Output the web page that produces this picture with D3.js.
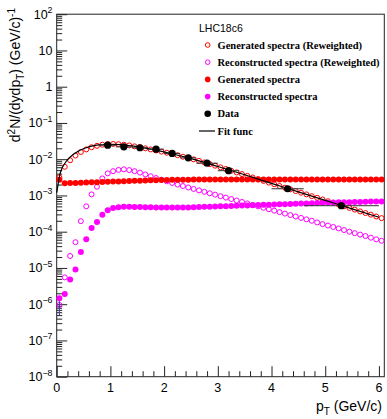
<!DOCTYPE html>
<html>
<head>
<meta charset="utf-8">
<script src="https://cdn.jsdelivr.net/npm/d3@7"></script>
<style>
  html, body { margin: 0; padding: 0; background: #fff; }
  svg { display: block; }
  text { font-family: "Liberation Sans", Arial, Helvetica, sans-serif; fill: #000; }
  .leg { font-family: "Liberation Serif", "Times New Roman", serif; font-weight: bold; }
</style>
</head>
<body>
<svg id="chart" width="387" height="419"></svg>
<script>
// ---- pT bins: 0.1 GeV/c wide, from 0 to 6.1 ----
const binCenters = d3.range(61).map(i => +(0.05 + 0.1 * i).toFixed(2));

// Generated spectra (Reweighted)
const genReweighted = [
  3.16e-3, 6.17e-3, 9.33e-3, 1.26e-2, 1.58e-2, 1.86e-2, 2.14e-2, 2.34e-2, 2.51e-2, 2.60e-2,
  2.63e-2, 2.60e-2, 2.51e-2, 2.40e-2, 2.26e-2, 2.14e-2, 2.00e-2, 1.86e-2, 1.74e-2, 1.62e-2,
  1.51e-2, 1.40e-2, 1.29e-2, 1.17e-2, 1.08e-2, 9.89e-3, 9.02e-3, 8.13e-3, 7.33e-3, 6.61e-3,
  5.96e-3, 5.37e-3, 4.79e-3, 4.32e-3, 3.89e-3, 3.47e-3, 3.13e-3, 2.82e-3, 2.51e-3, 2.26e-3,
  2.04e-3, 1.82e-3, 1.64e-3, 1.48e-3, 1.32e-3, 1.19e-3, 1.07e-3, 9.55e-4, 8.61e-4, 7.76e-4,
  6.92e-4, 6.24e-4, 5.62e-4, 5.01e-4, 4.52e-4, 4.07e-4, 3.63e-4, 3.27e-4, 2.95e-4, 2.63e-4,
  2.37e-4
];

// Reconstructed spectra (Reweighted)
const recoReweighted = [
  9.55e-7, 5.50e-6, 2.14e-5, 5.13e-5, 1.95e-4, 5.01e-4, 1.07e-3, 1.74e-3, 2.95e-3, 4.07e-3,
  4.68e-3, 5.07e-3, 5.25e-3, 5.01e-3, 4.68e-3, 4.27e-3, 3.80e-3, 3.39e-3, 3.02e-3, 2.72e-3,
  2.45e-3, 2.21e-3, 2.00e-3, 1.82e-3, 1.66e-3, 1.51e-3, 1.38e-3, 1.26e-3, 1.15e-3, 1.05e-3,
  9.55e-4, 8.71e-4, 7.94e-4, 7.24e-4, 6.61e-4, 6.03e-4, 5.50e-4, 5.01e-4, 4.57e-4, 4.17e-4,
  3.80e-4, 3.47e-4, 3.16e-4, 2.88e-4, 2.63e-4, 2.40e-4, 2.19e-4, 2.00e-4, 1.80e-4, 1.62e-4,
  1.48e-4, 1.35e-4, 1.23e-4, 1.11e-4, 1.00e-4, 9.12e-5, 8.32e-5, 7.59e-5, 6.84e-5, 6.17e-5,
  5.62e-5
];

// Generated spectra
const generated = [
  2.69e-3, 2.18e-3, 2.20e-3, 2.22e-3, 2.25e-3, 2.27e-3, 2.30e-3, 2.33e-3, 2.36e-3, 2.38e-3,
  2.41e-3, 2.44e-3, 2.47e-3, 2.50e-3, 2.53e-3, 2.56e-3, 2.59e-3, 2.62e-3, 2.64e-3, 2.66e-3,
  2.68e-3, 2.70e-3, 2.71e-3, 2.72e-3, 2.73e-3, 2.75e-3, 2.74e-3, 2.76e-3, 2.75e-3, 2.74e-3,
  2.75e-3, 2.76e-3, 2.75e-3, 2.74e-3, 2.76e-3, 2.75e-3, 2.75e-3, 2.74e-3, 2.76e-3, 2.75e-3,
  2.74e-3, 2.75e-3, 2.76e-3, 2.75e-3, 2.74e-3, 2.75e-3, 2.76e-3, 2.75e-3, 2.75e-3, 2.74e-3,
  2.76e-3, 2.75e-3, 2.74e-3, 2.75e-3, 2.76e-3, 2.75e-3, 2.74e-3, 2.75e-3, 2.76e-3, 2.75e-3,
  2.75e-3
];

// Reconstructed spectra
const reconstructed = [
  1.45e-6, 1.91e-6, 4.79e-6, 9.12e-6, 2.75e-5, 6.17e-5, 1.26e-4, 1.86e-4, 2.95e-4, 3.89e-4,
  4.52e-4, 4.73e-4, 4.84e-4, 4.84e-4, 4.79e-4, 4.79e-4, 4.73e-4, 4.73e-4, 4.68e-4, 4.68e-4,
  4.68e-4, 4.68e-4, 4.68e-4, 4.68e-4, 4.68e-4, 4.73e-4, 4.79e-4, 4.84e-4, 4.90e-4, 4.95e-4,
  5.01e-4, 5.07e-4, 5.13e-4, 5.19e-4, 5.25e-4, 5.31e-4, 5.37e-4, 5.43e-4, 5.50e-4, 5.56e-4,
  5.62e-4, 5.69e-4, 5.75e-4, 5.82e-4, 5.89e-4, 5.96e-4, 6.03e-4, 6.10e-4, 6.17e-4, 6.24e-4,
  6.31e-4, 6.38e-4, 6.46e-4, 6.46e-4, 6.53e-4, 6.61e-4, 6.61e-4, 6.68e-4, 6.76e-4, 6.76e-4,
  6.84e-4
];

// Measured data points with bin half-widths
const dataPt   = [0.95, 1.25, 1.55, 1.85, 2.15, 2.45, 2.8, 3.2, 4.3, 5.3];
const dataVal  = [2.43e-2, 2.19e-2, 2.07e-2, 1.89e-2, 1.44e-2, 1.09e-2, 7.76e-3, 4.82e-3, 1.53e-3, 5.21e-4];
const dataErrX = [0.15, 0.15, 0.15, 0.15, 0.15, 0.15, 0.2, 0.2, 0.3, 0.7];

// Fit function, sampled along pT
const fitPt  = [0, 0.03, 0.06, 0.1, 0.15, 0.2, 0.3, 0.4, 0.5, 0.6, 0.7, 0.8, 0.9, 1.0, 1.2, 1.4,
                1.6, 1.8, 2.0, 2.2, 2.4, 2.6, 2.8, 3.0, 3.5, 4.0, 4.5, 5.0, 5.5, 6.0];
const fitVal = [1.20e-3, 2.19e-3, 3.80e-3, 5.62e-3, 7.59e-3, 9.55e-3, 1.32e-2, 1.66e-2, 1.95e-2, 2.19e-2,
                2.37e-2, 2.48e-2, 2.54e-2, 2.57e-2, 2.51e-2, 2.32e-2, 2.09e-2, 1.84e-2, 1.58e-2, 1.35e-2,
                1.14e-2, 9.44e-3, 7.76e-3, 6.31e-3, 3.72e-3, 2.16e-3, 1.26e-3, 7.33e-4, 4.27e-4, 2.51e-4];

// Vertical error on the first reconstructed (reweighted) bin
const recoRwErrLo = [5.0e-7];
const recoRwErrHi = [1.45e-6];

// Axis ticks
const xMajor = [0, 1, 2, 3, 4, 5, 6];
const xMinor = d3.range(0, 6.01, 0.2).map(v => +v.toFixed(1)).filter(v => !xMajor.includes(v));
const yExponents = [-8, -7, -6, -5, -4, -3, -2, -1, 0, 1, 2];

// Legend
const legendHeader = "LHC18c6";
const legendLabels = [
  "Generated spectra (Reweighted)",
  "Reconstructed spectra (Reweighted)",
  "Generated spectra",
  "Reconstructed spectra",
  "Data",
  "Fit func"
];

const RED = "#ff0000", MAG = "#ff00ff";

const svg = d3.select("#chart");
const x = d3.scaleLinear().domain([0, 6.1]).range([56.7, 384.3]);
const y = d3.scaleLog().domain([1e-8, 1e2]).range([376.7, 14.2]);

const x0 = x.range()[0], x1 = x.range()[1];
const yb = y.range()[0], yt = y.range()[1];

// ---- ticks (drawn inward, ROOT style) ----
const yMinor = [];
yExponents.slice(0, -1).forEach(e => { for (let m = 2; m <= 9; m++) yMinor.push(m * Math.pow(10, e)); });

function cleanAxis(g) {
  g.select(".domain").remove();
  g.selectAll("line").attr("stroke", "#222").attr("stroke-width", 1);
  g.selectAll("text").remove();
}
svg.append("g").attr("transform", `translate(${x0},0)`)
  .call(d3.axisLeft(y).tickValues(yExponents.map(e => Math.pow(10, e))).tickSize(-10.5).tickSizeOuter(0))
  .call(cleanAxis);
svg.append("g").attr("transform", `translate(${x0},0)`)
  .call(d3.axisLeft(y).tickValues(yMinor).tickSize(-5.5).tickSizeOuter(0))
  .call(cleanAxis);
svg.append("g").attr("transform", `translate(0,${yb})`)
  .call(d3.axisBottom(x).tickValues(xMajor).tickSize(-10.5).tickSizeOuter(0))
  .call(cleanAxis);
svg.append("g").attr("transform", `translate(0,${yb})`)
  .call(d3.axisBottom(x).tickValues(xMinor).tickSize(-5.5).tickSizeOuter(0))
  .call(cleanAxis);

// frame
svg.append("rect")
  .attr("x", x0).attr("y", yt).attr("width", x1 - x0).attr("height", yb - yt)
  .attr("fill", "none").attr("stroke", "#222").attr("stroke-width", 1);

// ---- tick labels ----
svg.append("g").selectAll("text").data(xMajor).join("text")
  .attr("x", d => x(d)).attr("y", yb + 15.5)
  .attr("text-anchor", "middle").attr("font-size", 12.5)
  .text(d => d);

const yl = svg.append("g").selectAll("text").data(yExponents).join("text")
  .attr("x", 52.5).attr("y", d => y(Math.pow(10, d)) + 4.5)
  .attr("text-anchor", "end").attr("font-size", 12.5);
yl.each(function (e) {
  const t = d3.select(this);
  if (e === 0) { t.text("1"); return; }
  if (e === 1) { t.text("10"); return; }
  t.append("tspan").text("10");
  t.append("tspan").attr("font-size", 8.8).attr("dy", -5.5).text(e < 0 ? "\u2212" + (-e) : e);
});

// ---- axis titles ----
const xt = svg.append("text").attr("x", 382).attr("y", 411)
  .attr("text-anchor", "end").attr("font-size", 14);
xt.append("tspan").text("p");
xt.append("tspan").attr("font-size", 10).attr("dy", 3.5).text("T");
xt.append("tspan").attr("dy", -3.5).text(" (GeV/c)");

const yt2 = svg.append("text").attr("transform", "translate(20,8) rotate(-90)")
  .attr("text-anchor", "end").attr("font-size", 14);
yt2.append("tspan").text("d");
yt2.append("tspan").attr("font-size", 10).attr("dy", -5.5).text("2");
yt2.append("tspan").attr("dy", 5.5).text("N/(dydp");
yt2.append("tspan").attr("font-size", 10).attr("dy", 3.5).text("T");
yt2.append("tspan").attr("dy", -3.5).text(") (GeV/c)");
yt2.append("tspan").attr("font-size", 10).attr("dy", -5.5).text("-1");

// ---- series ----
const plot = svg.append("g");

function points(vals, cls) {
  return plot.append("g").attr("class", cls).selectAll("circle")
    .data(vals.map((v, i) => [binCenters[i], v]))
    .join("circle")
    .attr("cx", d => x(d[0])).attr("cy", d => y(d[1]));
}

points(genReweighted, "gen-rw").attr("r", 2.5).attr("fill", "none").attr("stroke", RED).attr("stroke-width", 1);
points(recoReweighted, "reco-rw").attr("r", 2.5).attr("fill", "none").attr("stroke", MAG).attr("stroke-width", 1);

// error bar on first reweighted reconstructed bin
plot.append("g").selectAll("line").data(recoRwErrLo).join("line")
  .attr("x1", x(binCenters[0])).attr("x2", x(binCenters[0]))
  .attr("y1", (d, i) => y(recoRwErrHi[i])).attr("y2", d => y(d))
  .attr("stroke", "#3a3aa8").attr("stroke-width", 1);

points(generated, "gen").attr("r", 3).attr("fill", RED);
points(reconstructed, "reco").attr("r", 3).attr("fill", MAG);

// fit function
const fitLine = d3.line().x(d => x(d[0])).y(d => y(d[1])).curve(d3.curveMonotoneX);
plot.append("path")
  .datum(fitPt.map((p, i) => [p, fitVal[i]]))
  .attr("d", fitLine)
  .attr("fill", "none").attr("stroke", "#000").attr("stroke-width", 1.2);

// data with horizontal bin-width bars
const dg = plot.append("g");
dg.selectAll("line").data(dataPt).join("line")
  .attr("x1", (d, i) => x(d - dataErrX[i])).attr("x2", (d, i) => x(d + dataErrX[i]))
  .attr("y1", (d, i) => y(dataVal[i])).attr("y2", (d, i) => y(dataVal[i]))
  .attr("stroke", "#333").attr("stroke-width", 1);
dg.selectAll("circle").data(dataPt).join("circle")
  .attr("cx", d => x(d)).attr("cy", (d, i) => y(dataVal[i]))
  .attr("r", 3.6).attr("fill", "#000");

// ---- legend ----
const lg = svg.append("g");
lg.append("text").attr("x", 199).attr("y", 32).attr("font-size", 10.5).text(legendHeader);

const legStyles = [
  { type: "circle", r: 2.3, fill: "none", stroke: RED },
  { type: "circle", r: 2.3, fill: "none", stroke: MAG },
  { type: "circle", r: 2.8, fill: RED, stroke: "none" },
  { type: "circle", r: 2.8, fill: MAG, stroke: "none" },
  { type: "circle", r: 3.3, fill: "#000", stroke: "none" },
  { type: "line" }
];
const rows = lg.selectAll("g.row").data(legendLabels).join("g")
  .attr("class", "row")
  .attr("transform", (d, i) => `translate(0,${45 + 17.2 * i})`);
rows.each(function (d, i) {
  const g = d3.select(this), s = legStyles[i];
  if (s.type === "circle") {
    g.append("circle").attr("cx", 207.7).attr("cy", 0).attr("r", s.r)
      .attr("fill", s.fill).attr("stroke", s.stroke).attr("stroke-width", 1);
  } else {
    g.append("line").attr("x1", 199).attr("x2", 215).attr("y1", 0).attr("y2", 0)
      .attr("stroke", "#000").attr("stroke-width", 1.2);
  }
  g.append("text").attr("class", "leg").attr("x", 217.5).attr("y", 3.6)
    .attr("font-size", 10.5).text(d);
});
</script>
</body>
</html>
